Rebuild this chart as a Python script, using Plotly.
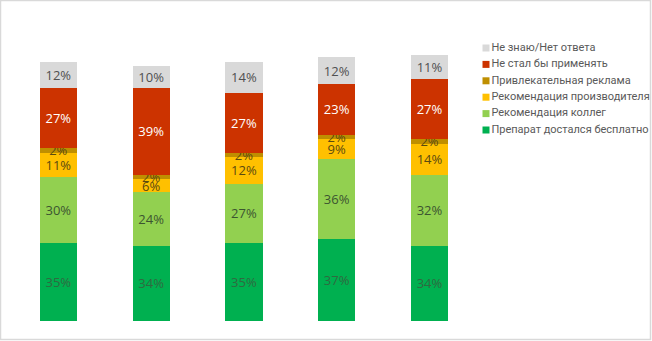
import plotly.graph_objects as go

categories = ["1", "2", "3", "4", "5"]
series_names = [
    "Препарат достался бесплатно",
    "Рекомендация коллег",
    "Рекомендация производителя",
    "Привлекательная реклама",
    "Не стал бы применять",
    "Не знаю/Нет ответа",
]
free = [35, 34, 35, 37, 34]
colleagues = [30, 24, 27, 36, 32]
manufacturer = [11, 6, 12, 9, 14]
advert = [2, 2, 2, 2, 2]
wouldnt = [27, 39, 27, 23, 27]
dontknow = [12, 10, 14, 12, 11]

series_values = [free, colleagues, manufacturer, advert, wouldnt, dontknow]
colors = ["#00b050", "#92d050", "#ffc000", "#bf8f00", "#cc3300", "#d9d9d9"]
text_colors = ["#2f6a40", "#3c5530", "#5a4a10", "#5a4a10", "#ffffff", "#505050"]

fig = go.Figure()
for name, vals, col, tcol in zip(series_names, series_values, colors, text_colors):
    fig.add_trace(go.Bar(
        x=categories, y=vals, name=name, marker_color=col,
        marker_line_width=0,
        text=[f"{v}%" for v in vals], textposition="inside",
        insidetextanchor="middle", constraintext="none",
        textfont=dict(color=tcol, size=13, family="Open Sans"),
        showlegend=False, hoverinfo="skip",
    ))

# custom legend (compact spacing) on its own axes
fig.add_trace(go.Scatter(
    x=[0] * len(series_names), y=series_names, text=series_names,
    mode="markers+text", textposition="middle right",
    marker=dict(symbol="square", size=7, color=colors),
    textfont=dict(size=11, color="#595959", family="Roboto"),
    xaxis="x2", yaxis="y2", showlegend=False, hoverinfo="skip",
    cliponaxis=False,
))

W, H = 652, 341
def fx(x):
    return x / W
def fy(y):
    return (H - y) / H

fig.add_shape(type="rect", xref="paper", yref="paper",
              x0=fx(0.5), x1=fx(650.5), y0=fy(339.5), y1=fy(0.5),
              line=dict(color="#d9d9d9", width=1.5), layer="below")

fig.update_layout(
    width=W, height=H,
    margin=dict(l=0, r=0, t=0, b=0, autoexpand=False),
    barmode="stack", bargap=0.6,
    plot_bgcolor="white", paper_bgcolor="white",
    showlegend=False,
    xaxis=dict(visible=False, range=[-0.5, 4.5], domain=[fx(12), fx(476)]),
    yaxis=dict(visible=False, range=[0, 120], domain=[fy(321), fy(55)]),
    xaxis2=dict(visible=False, range=[0, 1], domain=[fx(486), fx(652)], anchor="y2"),
    yaxis2=dict(visible=False, type="category", categoryorder="array",
                categoryarray=series_names, range=[-0.5, len(series_names) - 0.5],
                domain=[fy(138.2), fy(39.8)], anchor="x2"),
    font=dict(family="Open Sans"),
)

fig.write_html("out.html")
